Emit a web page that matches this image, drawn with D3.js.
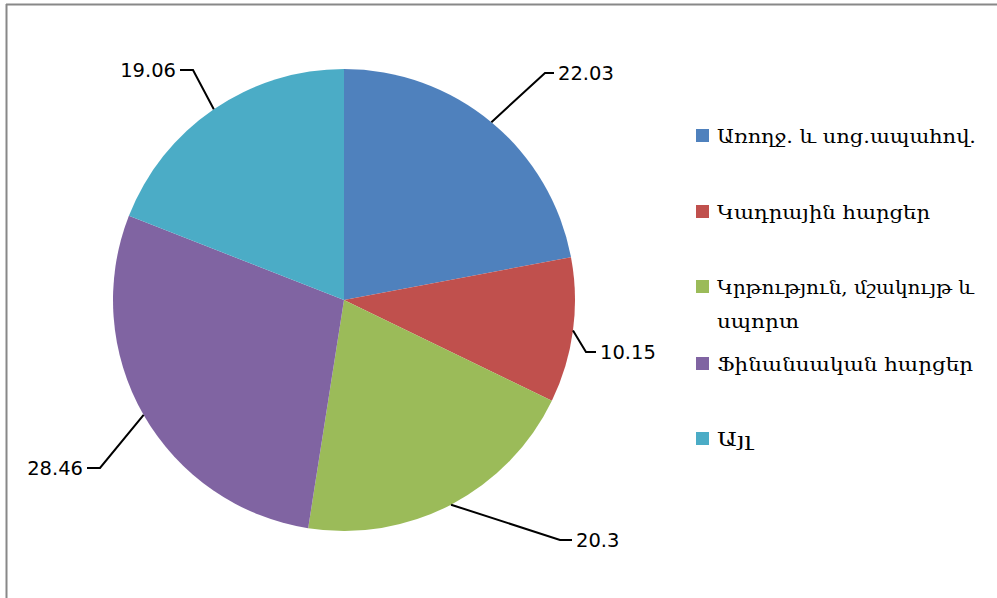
<!DOCTYPE html>
<html><head><meta charset="utf-8">
<script src="https://cdn.jsdelivr.net/npm/d3@7"></script>
<style>body{margin:0;background:#fff}svg{display:block}</style>
</head><body>
<svg id="c" width="997" height="598"></svg>
<script>
const categories = ["Առողջ. և սոց.ապահով.", "Կադրային հարցեր", "Կրթություն, մշակույթ և սպորտ", "Ֆինանսական հարցեր", "Այլ"];
const values = [22.03, 10.15, 20.3, 28.46, 19.06];
const valueLabels = ["22.03", "10.15", "20.3", "28.46", "19.06"];
const colors = ["#4F81BD", "#C0504D", "#9BBB59", "#8064A2", "#4BACC6"];
const legendLines = [["Առողջ. և սոց.ապահով."], ["Կադրային հարցեր"], ["Կրթություն, մշակույթ և", "սպորտ"], ["Ֆինանսական հարցեր"], ["Այլ"]];

const svg = d3.select("#c");
// frame
svg.append("line").attr("x1",6.5).attr("x2",6.5).attr("y1",4).attr("y2",598).attr("stroke","#888").attr("stroke-width",2);
svg.append("line").attr("x1",6).attr("x2",997).attr("y1",4.5).attr("y2",4.5).attr("stroke","#888").attr("stroke-width",2);

const cx = 344, cy = 300, r = 231;
const pie = d3.pie().sort(null).value(d => d);
const arcs = pie(values);
const arc = d3.arc().innerRadius(0).outerRadius(r);
const g = svg.append("g").attr("transform", `translate(${cx},${cy})`);
g.selectAll("path").data(arcs).join("path").attr("d", arc).attr("fill", (d,i)=>colors[i]);

const elbows = [
  {ex: 545, ey: 73, hx: 554, anchor: "start"},
  {ex: 586, ey: 352, hx: 596, anchor: "start"},
  {ex: 560, ey: 540, hx: 572, anchor: "start"},
  {ex: 100, ey: 468, hx: 87, anchor: "end"},
  {ex: 193, ey: 70, hx: 180, anchor: "end"}
];
arcs.forEach((d,i) => {
  const a = (d.startAngle + d.endAngle)/2;
  const px = cx + r*Math.sin(a), py = cy - r*Math.cos(a);
  const e = elbows[i];
  svg.append("polyline")
    .attr("points", `${px},${py} ${e.ex},${e.ey} ${e.hx},${e.ey}`)
    .attr("fill","none").attr("stroke","#000").attr("stroke-width",2);
  svg.append("text")
    .attr("x", e.anchor === "start" ? e.hx + 4 : e.hx - 4)
    .attr("y", e.ey + 7)
    .attr("text-anchor", e.anchor)
    .attr("font-family", "DejaVu Sans, sans-serif")
    .attr("font-size", 19.5)
    .attr("fill", "#000")
    .text(valueLabels[i]);
});

// legend
const rowTops = [129, 205, 280, 357, 432];
const lineWidths = [[259], [213], [257, 82], [256], [35]];
legendLines.forEach((lines, i) => {
  svg.append("rect").attr("x",696).attr("y",rowTops[i]).attr("width",13).attr("height",13).attr("fill",colors[i]);
  lines.forEach((t, j) => {
    svg.append("text")
      .attr("x", 717).attr("y", rowTops[i] + 14 + j*34)
      .attr("font-family", "DejaVu Serif, serif")
      .attr("font-size", 19)
      .attr("textLength", lineWidths[i][j])
      .attr("lengthAdjust", "spacingAndGlyphs")
      .attr("fill", "#000")
      .text(t);
  });
});
</script>
</body></html>
